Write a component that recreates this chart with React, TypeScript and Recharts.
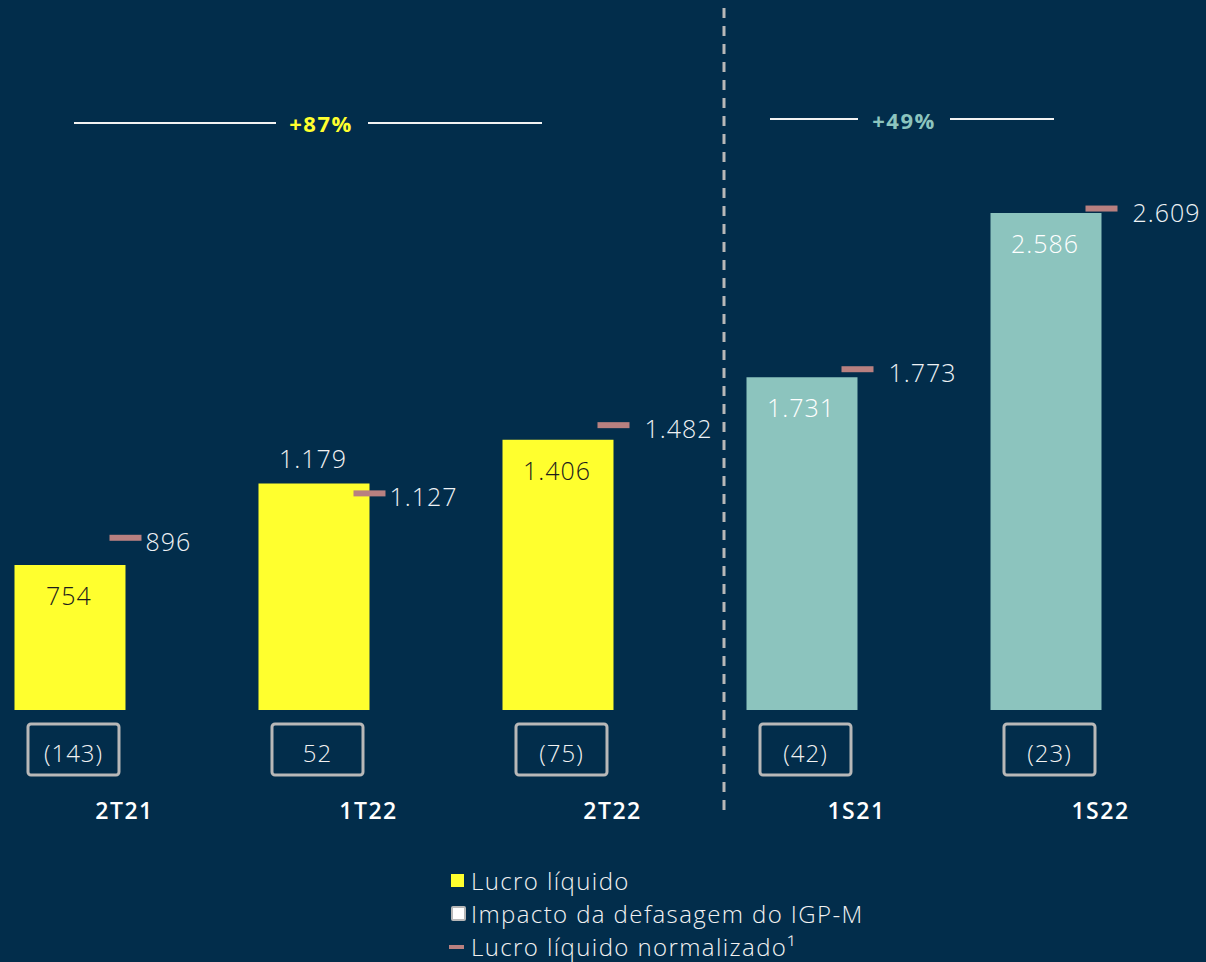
import {
  ComposedChart,
  Bar,
  Scatter,
  XAxis,
  YAxis,
  LabelList,
  Legend,
  Cell,
  Customized,
} from "recharts";

const categories = ["2T21", "1T22", "2T22", "1S21", "1S22"];
const lucroLiquido = [754, 1179, 1406, 1731, 2586];
const impactoIgpm = [-143, 52, -75, -42, -23];
const lucroNormalizado = [896, 1127, 1482, 1773, 2609];
const legendNames = ["Lucro líquido", "Impacto da defasagem do IGP-M", "Lucro líquido normalizado¹"];
const variacoes = ["+87%", "+49%"];

const NAVY = "#022D4B";
const YELLOW = "#FFFF2E";
const TEAL = "#8CC4BE";
const ROSE = "#B88080";
const GRAY = "#B8B8B8";
const FONT = "'Open Sans', 'Noto Sans', sans-serif";

const data = categories.map((cat, i) => ({
  idx: i,
  cat,
  lucro: lucroLiquido[i],
  igpm: impactoIgpm[i],
  norm: lucroNormalizado[i],
}));

const fmt = (v: number) => {
  const s = String(Math.abs(v)).replace(/\B(?=(\d{3})+(?!\d))/g, ".");
  return v < 0 ? `(${s})` : s;
};

const barColor = (i: number) => (i < 3 ? YELLOW : TEAL);

function BarValue(props: any) {
  const { x, y, width, value, index } = props;
  const above = index === 1;
  const fill = above ? "#F2F2F2" : index < 3 ? "#1C1C1C" : "#FFFFFF";
  return (
    <text
      x={x + width / 2 - 1}
      y={above ? y - 25 : y + 30}
      textAnchor="middle"
      dominantBaseline="central"
      fill={fill}
      fontSize={25}
      fontWeight={300}
      letterSpacing={1}
      fontFamily={FONT}
    >
      {fmt(value)}
    </text>
  );
}

function NormMarker(props: any) {
  const { cx, cy, payload } = props;
  const gap = payload.idx < 2 ? 4 : 15;
  const mx = cx + 56;
  return (
    <g>
      <rect x={mx - 16} y={cy - 3} width={32} height={6} fill={ROSE} />
      <text
        x={mx + 16 + gap}
        y={cy + 3}
        dominantBaseline="central"
        fill="#EEF2F5"
        fontSize={25}
        fontWeight={300}
        letterSpacing={1}
        fontFamily={FONT}
      >
        {fmt(payload.norm)}
      </text>
    </g>
  );
}

function CategoryTick(props: any) {
  const { x, y, payload } = props;
  const i = payload.value as number;
  return (
    <g>
      <rect
        x={x + 4 - 45.5}
        y={y + 14}
        width={91}
        height={51}
        rx={3}
        fill="none"
        stroke={GRAY}
        strokeWidth={3}
      />
      <text
        x={x + 4}
        y={y + 42}
        textAnchor="middle"
        dominantBaseline="central"
        fill="#F2F2F2"
        fontSize={24}
        fontWeight={300}
        letterSpacing={1}
        fontFamily={FONT}
      >
        {fmt(impactoIgpm[i])}
      </text>
      <text
        x={x + 55}
        y={y + 100}
        textAnchor="middle"
        dominantBaseline="central"
        fill="#FFFFFF"
        fontSize={23}
        fontWeight={600}
        letterSpacing={1.5}
        fontFamily={FONT}
      >
        {categories[i]}
      </text>
    </g>
  );
}

function Annotations() {
  return (
    <g>
      <line x1={724} x2={724} y1={8} y2={818} stroke={GRAY} strokeWidth={3} strokeDasharray="10 8" />
      <line x1={74} x2={276} y1={123} y2={123} stroke="#F2F2F2" strokeWidth={2} />
      <line x1={368} x2={542} y1={123} y2={123} stroke="#F2F2F2" strokeWidth={2} />
      <text x={321} y={123} textAnchor="middle" dominantBaseline="central" fill={YELLOW} fontSize={22} fontWeight={700} letterSpacing={1.5} fontFamily={FONT}>
        {variacoes[0]}
      </text>
      <line x1={770} x2={858} y1={119} y2={119} stroke="#F2F2F2" strokeWidth={2} />
      <line x1={950} x2={1054} y1={119} y2={119} stroke="#F2F2F2" strokeWidth={2} />
      <text x={904} y={120} textAnchor="middle" dominantBaseline="central" fill={TEAL} fontSize={22} fontWeight={700} letterSpacing={1.5} fontFamily={FONT}>
        {variacoes[1]}
      </text>
    </g>
  );
}

function LegendBox() {
  const marker = (i: number) => {
    if (i === 0) return <span style={{ display: "inline-block", width: 13, height: 13, background: YELLOW }} />;
    if (i === 1)
      return (
        <span
          style={{ display: "inline-block", width: 11, height: 11, background: "#FFFFFF", border: `2px solid ${GRAY}`, borderRadius: 2 }}
        />
      );
    return <span style={{ display: "inline-block", width: 15, height: 4, background: ROSE, marginLeft: -2 }} />;
  };
  return (
    <div style={{ fontFamily: FONT, fontWeight: 300, fontSize: 24, letterSpacing: 1.4, color: "#F2F2F2" }}>
      {legendNames.map((n, i) => (
        <div key={n} style={{ display: "flex", alignItems: "center", height: 33, whiteSpace: "nowrap" }}>
          <span style={{ width: 20, display: "flex", alignItems: "center" }}>{marker(i)}</span>
          <span>{n}</span>
        </div>
      ))}
    </div>
  );
}

export default function App() {
  return (
    <div style={{ position: "absolute", left: 0, top: 0, width: 1206, height: 962, background: NAVY }}>
      <ComposedChart width={1206} height={962} data={data} margin={{ top: 0, right: 0, bottom: 0, left: 0 }}>
        <XAxis
          type="number"
          dataKey="idx"
          domain={[-0.2848, 4.6578]}
          allowDataOverflow
          ticks={[0, 1, 2, 3, 4]}
          height={252}
          axisLine={false}
          tickLine={false}
          tickSize={0}
          tickMargin={0}
          tick={<CategoryTick />}
          interval={0}
        />
        <YAxis hide domain={[0, 3694]} allowDataOverflow width={0} />
        <Bar dataKey="lucro" name={legendNames[0]} barSize={111} isAnimationActive={false}>
          {data.map((d, i) => (
            <Cell key={d.cat} fill={barColor(i)} />
          ))}
          <LabelList dataKey="lucro" content={<BarValue />} />
        </Bar>
        <Scatter dataKey="norm" name={legendNames[2]} shape={<NormMarker />} isAnimationActive={false} />
        <Customized component={Annotations} />
        <Legend
          layout="vertical"
          align="center"
          verticalAlign="middle"
          content={() => <LegendBox />}
          wrapperStyle={{ position: "absolute", left: 451, top: 864, width: 460 }}
        />
      </ComposedChart>
    </div>
  );
}
